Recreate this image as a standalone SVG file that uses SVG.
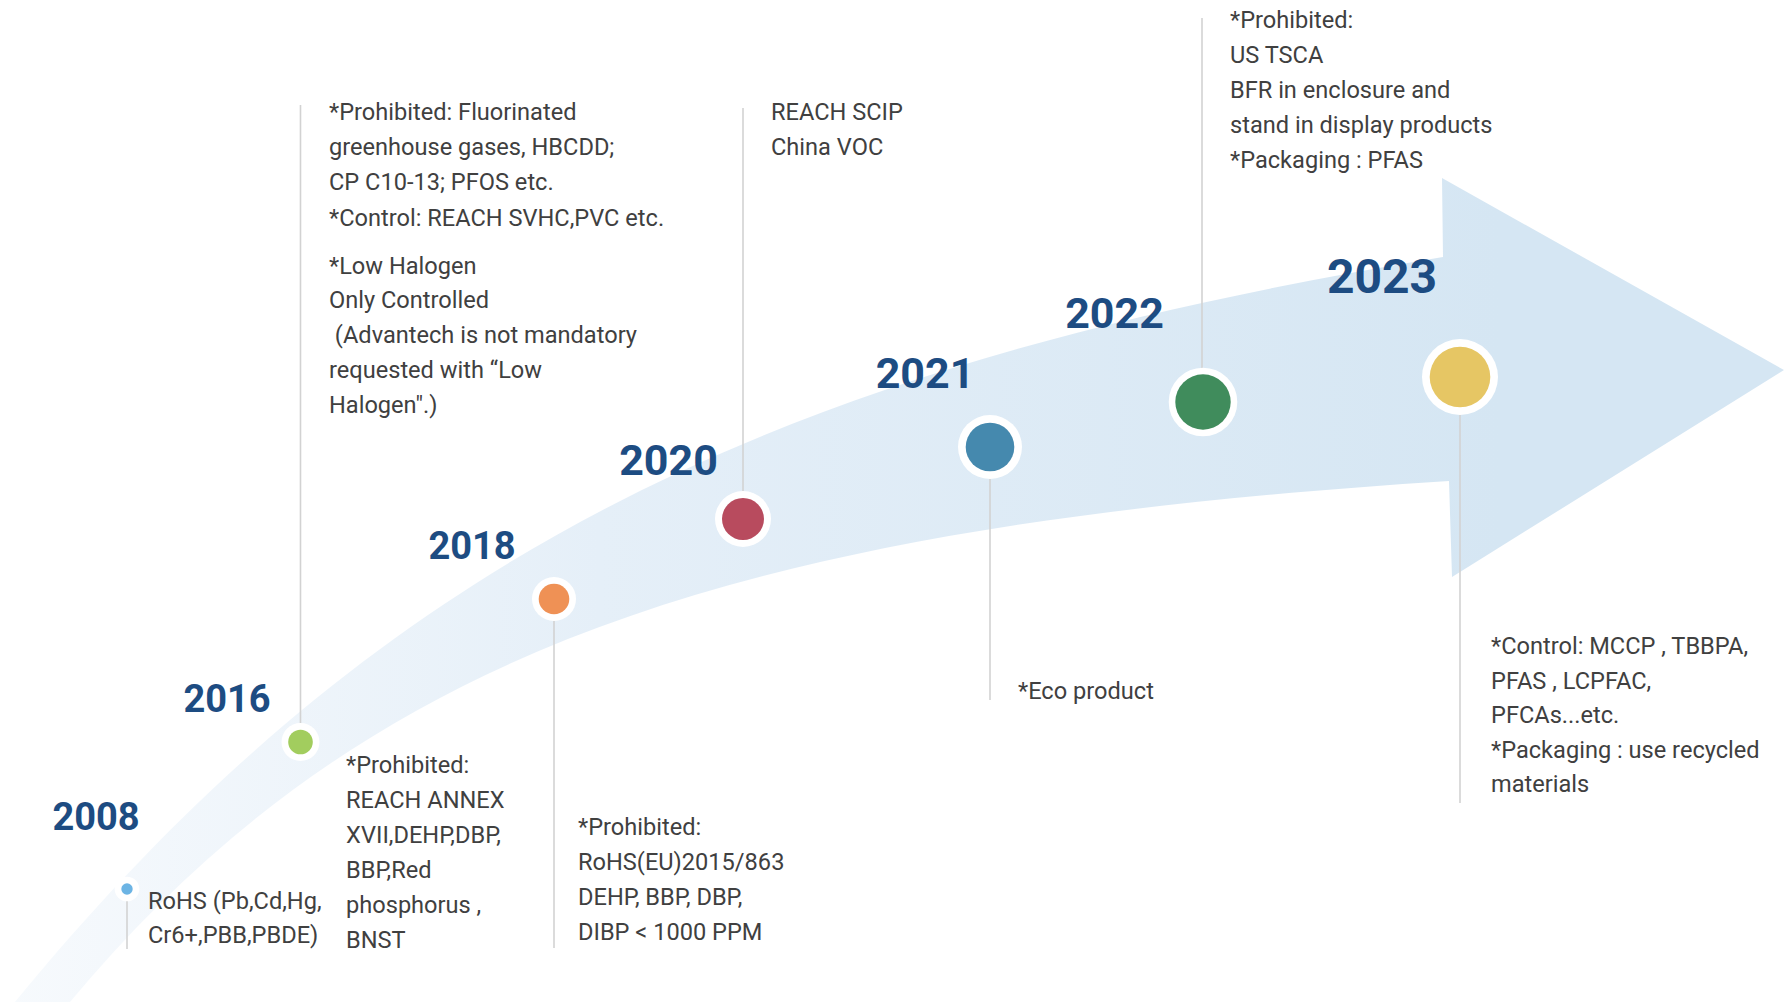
<svg xmlns="http://www.w3.org/2000/svg" width="1784" height="1002" viewBox="0 0 1784 1002">
  <defs>
    <linearGradient id="ribbonFill" gradientUnits="userSpaceOnUse" x1="0" y1="0" x2="1500" y2="0">
      <stop offset="0" stop-color="#f7fafd"/>
      <stop offset="0.4" stop-color="#e5eff8"/>
      <stop offset="1" stop-color="#d5e6f3"/>
    </linearGradient>
    <style>
      .year { font-family: Roboto, "Liberation Sans", sans-serif; font-weight: 700; fill: #1d4c82; text-anchor: middle; }
      .note { font-family: Roboto, "Liberation Sans", sans-serif; font-size: 23.6px; fill: #404040; white-space: pre; }
      .halo { fill: #ffffff; }
      .stem { stroke: #d2d2d2; stroke-width: 1.6; fill: none; }
    </style>
  </defs>

  <rect width="1784" height="1002" fill="#ffffff"/>

  <!-- curved timeline arrow -->
  <path id="ribbon" fill="url(#ribbonFill)"
        d="M15,1002 C390,545 790,365 1443,257 L1442,178 L1784,370 L1452,577 L1449,481 C749,526 370,642 70,1002 Z"/>

  <!-- leader lines from each milestone dot to its notes -->
  <g id="connectors" class="stem">
    <line x1="127" y1="889" x2="127" y2="949"/>
    <line x1="300.5" y1="105" x2="300.5" y2="730"/>
    <line x1="554" y1="599" x2="554" y2="948"/>
    <line x1="743" y1="108" x2="743" y2="519"/>
    <line x1="990" y1="447" x2="990" y2="700"/>
    <line x1="1202" y1="18" x2="1202" y2="402"/>
    <line x1="1460" y1="377" x2="1460" y2="803"/>
  </g>

  <g id="m2008">
    <circle class="halo" cx="127" cy="889" r="12.3"/>
    <circle cx="127" cy="889" r="5.7" fill="#6cb4e4"/>
    <text class="year" x="96" y="830" font-size="38">2008</text>
    <text class="note" x="148"><tspan x="148" y="909">RoHS (Pb,Cd,Hg,</tspan><tspan x="148" y="943">Cr6+,PBB,PBDE)</tspan></text>
  </g>

  <g id="m2016">
    <circle class="halo" cx="300.5" cy="742" r="19"/>
    <circle cx="300.5" cy="742" r="12.3" fill="#a2cd5e"/>
    <text class="year" x="227" y="712" font-size="38">2016</text>
    <text class="note"><tspan x="329" y="120">*Prohibited: Fluorinated</tspan><tspan x="329" y="155">greenhouse gases, HBCDD;</tspan><tspan x="329" y="190">CP C10-13; PFOS etc.</tspan><tspan x="329" y="226">*Control: REACH SVHC,PVC etc.</tspan><tspan x="329" y="274">*Low Halogen</tspan><tspan x="329" y="308">Only Controlled</tspan><tspan x="329" y="343"> (Advantech is not mandatory</tspan><tspan x="329" y="378">requested with “Low</tspan><tspan x="329" y="413">Halogen".)</tspan></text>
    <text class="note"><tspan x="346" y="773">*Prohibited:</tspan><tspan x="346" y="808">REACH ANNEX</tspan><tspan x="346" y="843">XVII,DEHP,DBP,</tspan><tspan x="346" y="878">BBP,Red</tspan><tspan x="346" y="913">phosphorus ,</tspan><tspan x="346" y="948">BNST</tspan></text>
  </g>

  <g id="m2018">
    <circle class="halo" cx="554" cy="599" r="22"/>
    <circle cx="554" cy="599" r="15.3" fill="#ef9155"/>
    <text class="year" x="472" y="559" font-size="38">2018</text>
    <text class="note"><tspan x="578" y="835">*Prohibited:</tspan><tspan x="578" y="870">RoHS(EU)2015/863</tspan><tspan x="578" y="905">DEHP, BBP, DBP,</tspan><tspan x="578" y="940">DIBP &lt; 1000 PPM</tspan></text>
  </g>

  <g id="m2020">
    <circle class="halo" cx="743" cy="519" r="28"/>
    <circle cx="743" cy="519" r="21" fill="#b84b5e"/>
    <text class="year" x="668.5" y="475" font-size="43">2020</text>
    <text class="note"><tspan x="771" y="120">REACH SCIP</tspan><tspan x="771" y="155">China VOC</tspan></text>
  </g>

  <g id="m2021">
    <circle class="halo" cx="990" cy="447" r="32"/>
    <circle cx="990" cy="447" r="24.3" fill="#4589ae"/>
    <text class="year" x="925" y="388" font-size="43">2021</text>
    <text class="note" x="1018" y="699">*Eco product</text>
  </g>

  <g id="m2022">
    <circle class="halo" cx="1203" cy="402" r="34.3"/>
    <circle cx="1203" cy="402" r="27.7" fill="#408c5c"/>
    <text class="year" x="1114.5" y="328" font-size="43">2022</text>
    <text class="note"><tspan x="1230" y="28">*Prohibited:</tspan><tspan x="1230" y="63">US TSCA</tspan><tspan x="1230" y="98">BFR in enclosure and</tspan><tspan x="1230" y="133">stand in display products</tspan><tspan x="1230" y="168">*Packaging : PFAS</tspan></text>
  </g>

  <g id="m2023">
    <circle class="halo" cx="1460" cy="377" r="38"/>
    <circle cx="1460" cy="377" r="30.3" fill="#e6c664"/>
    <text class="year" x="1382" y="293" font-size="48">2023</text>
    <text class="note"><tspan x="1491" y="654">*Control: MCCP , TBBPA,</tspan><tspan x="1491" y="689">PFAS , LCPFAC,</tspan><tspan x="1491" y="723">PFCAs...etc.</tspan><tspan x="1491" y="758">*Packaging : use recycled</tspan><tspan x="1491" y="792">materials</tspan></text>
  </g>
</svg>
